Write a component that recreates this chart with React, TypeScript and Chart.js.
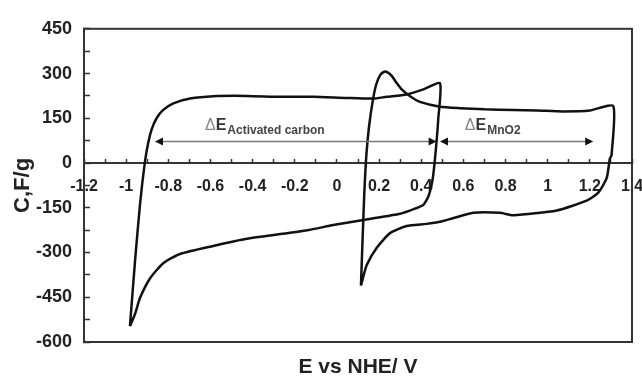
import React, { useEffect, useRef } from "react";
import { Chart, registerables } from "chart.js";

Chart.register(...registerables);

// Activated carbon CV loop (E in V vs NHE, C in F/g)
const acE = [-0.982, -0.958, -0.934, -0.911, -0.895, -0.879, -0.855, -0.824, -0.776, -0.697, -0.587, -0.428, -0.27, -0.112, 0.046, 0.172, 0.236, 0.331, 0.41, 0.489, 0.481, 0.47, 0.455, 0.435, 0.41, 0.37, 0.3, 0.14, -0.018, -0.14, -0.428, -0.587, -0.745, -0.824, -0.887, -0.934, -0.958, -0.982];
const acC = [-547, -330, -137, 4, 69, 113, 151, 178, 200, 216, 224, 225, 222, 222, 218, 216, 222, 230, 247, 267, 150, 50, -50, -110, -140, -153, -170, -189, -208, -225, -254, -278, -305, -336, -387, -452, -506, -547];

// MnO2 CV loop
const mnE = [0.114, 0.122, 0.13, 0.14, 0.152, 0.168, 0.185, 0.205, 0.225, 0.24, 0.26, 0.28, 0.31, 0.347, 0.394, 0.489, 0.584, 0.7, 0.837, 0.95, 1.074, 1.2, 1.311, 1.303, 1.295, 1.28, 1.24, 1.185, 1.043, 0.837, 0.773, 0.647, 0.55, 0.489, 0.425, 0.331, 0.252, 0.189, 0.141, 0.114];
const mnC = [-411, -250, -100, 30, 120, 200, 260, 295, 306, 304, 292, 272, 245, 224, 205, 189, 184, 180, 178, 176, 173, 176, 191, 26, 15, -50, -99, -126, -159, -175, -167, -167, -185, -197, -204, -211, -235, -284, -343, -411];

const xTitle = "E vs NHE/ V";
const yTitle = "C,F/g";

// Annotations (data coordinates)
const arrowLevel = 72;
const arrowAC = [-0.863, 0.473];
const arrowMn = [0.489, 1.216];
const labelAC = { x: -0.626, y: 112, sub: "Activated carbon" };
const labelMn = { x: 0.607, y: 110, sub: "MnO2" };

const FONT = '"Liberation Sans", Arial, Helvetica, sans-serif';

function drawArrowHead(ctx: CanvasRenderingContext2D, x: number, y: number, dir: number) {
  ctx.beginPath();
  ctx.moveTo(x, y);
  ctx.lineTo(x - dir * 8, y - 4);
  ctx.lineTo(x - dir * 8, y + 4);
  ctx.closePath();
  ctx.fill();
}

function drawLabel(ctx: CanvasRenderingContext2D, px: number, py: number, sub: string) {
  ctx.textBaseline = "alphabetic";
  ctx.textAlign = "left";
  ctx.font = `16px ${FONT}`;
  ctx.fillStyle = "#888";
  ctx.fillText("\u0394", px, py);
  let x = px + ctx.measureText("\u0394").width;
  ctx.font = `bold 16px ${FONT}`;
  ctx.fillStyle = "#333";
  ctx.fillText("E", x, py);
  x += ctx.measureText("E").width + 1;
  ctx.font = `bold 12px ${FONT}`;
  ctx.fillStyle = "#444";
  ctx.fillText(sub, x, py + 4);
}

const annotPlugin = {
  id: "annot",
  afterDatasetsDraw(chart: any) {
    const { ctx, chartArea: a, scales } = chart;
    const xs = scales.x;
    const ys = scales.y;
    ctx.save();
    // frame
    ctx.strokeStyle = "#333";
    ctx.lineWidth = 2;
    ctx.strokeRect(a.left, a.top, a.right - a.left, a.bottom - a.top);

    // arrows
    const ay = ys.getPixelForValue(arrowLevel);
    for (const seg of [arrowAC, arrowMn]) {
      const x1 = xs.getPixelForValue(seg[0]);
      const x2 = xs.getPixelForValue(seg[1]);
      ctx.strokeStyle = "#777";
      ctx.lineWidth = 1.5;
      ctx.beginPath();
      ctx.moveTo(x1 + 4, ay);
      ctx.lineTo(x2 - 4, ay);
      ctx.stroke();
      ctx.fillStyle = "#111";
      drawArrowHead(ctx, x1, ay, -1);
      drawArrowHead(ctx, x2, ay, 1);
    }

    // labels
    drawLabel(ctx, xs.getPixelForValue(labelAC.x), ys.getPixelForValue(labelAC.y), labelAC.sub);
    drawLabel(ctx, xs.getPixelForValue(labelMn.x), ys.getPixelForValue(labelMn.y), labelMn.sub);
    ctx.restore();
  },
};

export default function App() {
  const ref = useRef<HTMLCanvasElement | null>(null);

  useEffect(() => {
    document.body.style.margin = "0";
    const canvas = ref.current;
    if (!canvas) return;
    const toPts = (xs: number[], ys: number[]) => xs.map((x, i) => ({ x, y: ys[i] }));

    const chart = new Chart(canvas, {
      type: "scatter",
      data: {
        datasets: [
          {
            data: toPts(acE, acC),
            showLine: true,
            borderColor: "#111",
            borderWidth: 2.5,
            pointRadius: 0,
            tension: 0.2,
          },
          {
            data: toPts(mnE, mnC),
            showLine: true,
            borderColor: "#111",
            borderWidth: 2.5,
            pointRadius: 0,
            tension: 0.2,
          },
        ],
      },
      options: {
        responsive: false,
        animation: false,
        events: [],
        devicePixelRatio: 1,
        layout: { padding: { top: 20, right: 10, left: 0, bottom: 0 } },
        plugins: { legend: { display: false }, tooltip: { enabled: false } },
        scales: {
          x: {
            type: "linear",
            position: { y: 0 } as any,
            min: -1.2,
            max: 1.4,
            grid: {
              display: true,
              drawOnChartArea: false,
              drawTicks: true,
              tickLength: -5,
              tickWidth: 1.5,
              tickColor: "#333",
            },
            border: { display: true, color: "#333", width: 2 },
            ticks: {
              stepSize: 0.1,
              autoSkip: false,
              maxRotation: 0,
              minRotation: 0,
              padding: 19,
              color: "#222",
              font: { family: FONT, size: 16, weight: "bold" },
              callback: (v: any) => {
                const k = Math.round(Number(v) * 10);
                return k % 2 === 0 ? String(k / 10) : "";
              },
            },
            afterFit: (s: any) => {
              s.paddingLeft = 0;
              s.paddingRight = 0;
            },
          },
          x2: {
            type: "linear",
            position: "bottom",
            min: -1.2,
            max: 1.4,
            grid: { display: false },
            border: { display: false },
            ticks: { display: false },
            title: {
              display: true,
              text: xTitle,
              color: "#222",
              font: { family: FONT, size: 21, weight: "bold", lineHeight: 0.8 },
              padding: { top: 0, bottom: 0 },
            },
            afterFit: (s: any) => {
              s.height = 34;
            },
          },
          y: {
            type: "linear",
            position: "left",
            min: -600,
            max: 450,
            grid: {
              display: true,
              drawOnChartArea: false,
              drawTicks: true,
              tickLength: -6,
              tickWidth: 1.5,
              tickColor: "#333",
            },
            border: { display: true, color: "#333", width: 2 },
            ticks: {
              stepSize: 75,
              autoSkip: false,
              padding: 18,
              color: "#222",
              font: { family: FONT, size: 18, weight: "bold" },
              callback: (v: any) => (Math.round(Number(v)) % 150 === 0 ? String(v) : ""),
            },
            title: {
              display: true,
              text: yTitle,
              color: "#222",
              font: { family: FONT, size: 22, weight: "bold" },
              padding: { top: 10, bottom: 0 },
            },
            afterFit: (s: any) => {
              s.width = 84;
            },
          },
        },
      } as any,
      plugins: [annotPlugin],
    });
    return () => chart.destroy();
  }, []);

  return (
    <div style={{ width: 642, height: 376 }}>
      <canvas ref={ref} width={642} height={376} style={{ display: "block" }} />
    </div>
  );
}
